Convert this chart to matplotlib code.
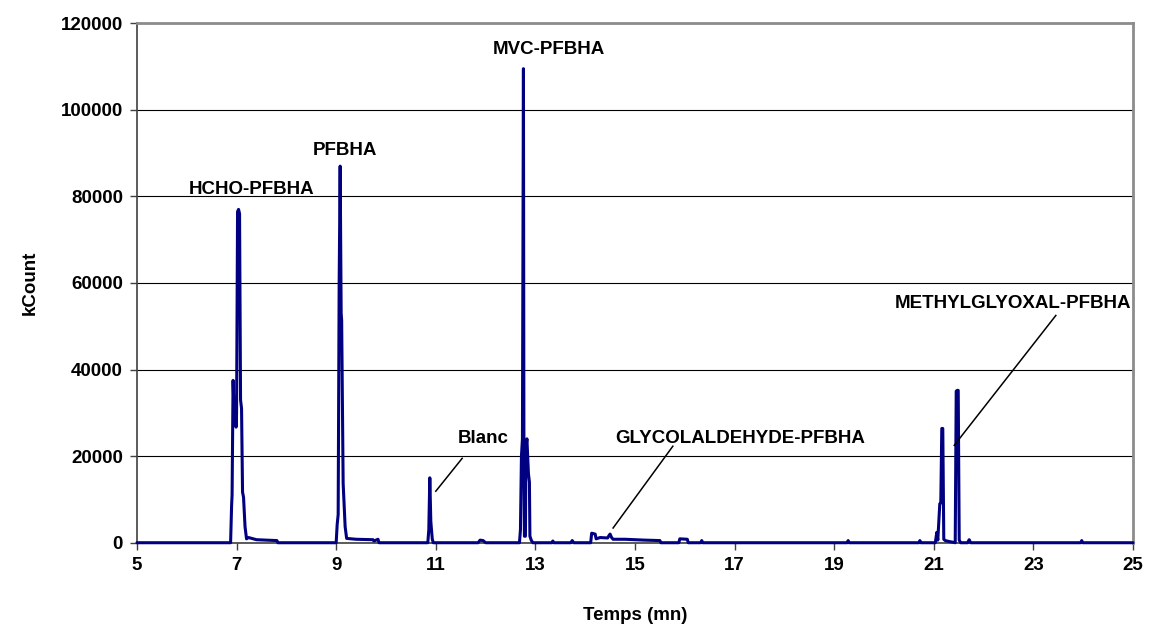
import numpy as np
import matplotlib
matplotlib.use('Agg')
import matplotlib.pyplot as plt

matplotlib.rcParams['font.family'] = ['Liberation Sans', 'DejaVu Sans']
matplotlib.rcParams['font.weight'] = 'bold'

# chromatogram trace: retention time (min) / signal (kCount)
rt = np.array([
    5.00, 6.88, 6.90, 6.91, 6.93, 6.95, 6.97, 6.99, 7.00, 7.02, 7.04, 7.06,
    7.08, 7.10, 7.12, 7.14, 7.17, 7.20, 7.24, 7.40, 7.60, 7.81, 7.83,
    9.00, 9.02, 9.04, 9.06, 9.08, 9.10, 9.11, 9.14, 9.18, 9.21, 9.40, 9.74,
    9.76, 9.84, 9.86,
    10.84, 10.86, 10.88, 10.90, 10.91, 10.93, 10.95,
    11.85, 11.89, 11.95, 12.00,
    12.68, 12.70, 12.72, 12.74, 12.76, 12.77, 12.78, 12.80, 12.81, 12.83,
    12.86, 12.88, 12.89, 12.92, 12.95,
    13.33, 13.35, 13.37, 13.71, 13.74, 13.77,
    14.11, 14.13, 14.20, 14.22, 14.30, 14.45, 14.48, 14.50, 14.53, 14.56,
    14.80, 15.00, 15.20, 15.50, 15.52,
    15.88, 15.90, 16.05, 16.07, 16.32, 16.34, 16.36,
    19.26, 19.28, 19.30, 20.70, 20.72, 20.74,
    21.03, 21.06, 21.08, 21.12, 21.14, 21.16, 21.18, 21.20, 21.23, 21.30,
    21.43, 21.45, 21.47, 21.49, 21.51, 21.54,
    21.68, 21.71, 21.74, 23.95, 23.97, 23.99, 25.00,
])
kcount = np.array([
    0, 0, 8500, 11000, 37500, 30000, 33000, 26700, 30000, 76500, 77000, 76000,
    33000, 31000, 11700, 10500, 3700, 900, 1200, 700, 600, 500, 0,
    0, 4200, 6500, 60000, 87000, 53000, 51400, 13700, 3700, 1000, 800, 700,
    400, 800, 0,
    0, 3000, 15000, 5000, 3500, 800, 0,
    0, 600, 500, 0,
    0, 3000, 20000, 24000, 109500, 18000, 1500, 1500, 22000, 24000,
    16000, 14000, 1500, 500, 0,
    0, 400, 0, 0, 500, 0,
    0, 2200, 2000, 900, 1200, 1100, 1700, 2000, 1200, 800,
    800, 700, 600, 500, 0,
    0, 900, 800, 0, 0, 500, 0,
    0, 500, 0, 0, 500, 0,
    0, 2400, 600, 9000, 9200, 26400, 26400, 800, 500, 300,
    0, 35000, 35200, 35200, 600, 0,
    0, 700, 0, 0, 500, 0, 0,
])

# peak labels: text, text position, connector start, connector end
labels = ['HCHO-PFBHA', 'PFBHA', 'MVC-PFBHA', 'Blanc',
          'GLYCOLALDEHYDE-PFBHA', 'METHYLGLYOXAL-PFBHA']
label_xy = [(7.31, 81600), (9.18, 90500), (13.27, 114000), (11.95, 24100),
            (17.11, 24100), (22.59, 55300)]
leaders = [None, None, None,
           ((11.00, 11900), (11.53, 19500)),
           ((14.56, 3400), (15.76, 22300)),
           ((21.41, 22500), (23.45, 52500))]

fig = plt.figure(figsize=(11.49, 6.27), dpi=100)
ax = fig.add_axes([0.1192, 0.1344, 0.8669, 0.8285])

ax.plot(rt, kcount, color='#000080', lw=2.2, solid_joinstyle='round',
        solid_capstyle='round', clip_on=False, zorder=3)

for txt, (tx, ty), ld in zip(labels, label_xy, leaders):
    ax.text(tx, ty, txt, ha='center', va='center', fontsize=13.5,
            fontweight='bold', zorder=4)
    if ld is not None:
        (x0, y0), (x1, y1) = ld
        ax.plot([x0, x1], [y0, y1], color='black', lw=1.1, zorder=4)

ax.set_xlim(5, 25)
ax.set_ylim(0, 120000)
ax.set_xticks(np.arange(5, 26, 2))
ax.set_yticks(np.arange(0, 120001, 20000))
ax.yaxis.grid(True, color='black', lw=0.8)
ax.set_axisbelow(True)

for side in ['top', 'right']:
    ax.spines[side].set_color('#8c8c8c')
    ax.spines[side].set_linewidth(2)
for side in ['left', 'bottom']:
    ax.spines[side].set_color('#404040')
    ax.spines[side].set_linewidth(1.2)

ax.tick_params(axis='both', direction='out', length=5, width=1,
               color='#404040', labelsize=13.5, pad=5)
for lab in ax.get_xticklabels() + ax.get_yticklabels():
    lab.set_fontweight('bold')

ax.set_xlabel('Temps (mn)', fontsize=13.5, fontweight='bold', labelpad=24)
ax.set_ylabel('kCount', fontsize=13.5, fontweight='bold', labelpad=16)

fig.savefig('out.png', dpi=100)
